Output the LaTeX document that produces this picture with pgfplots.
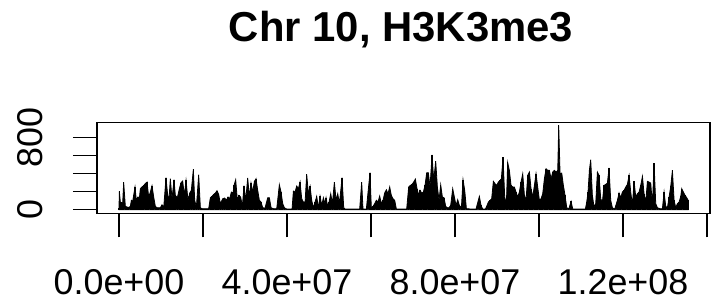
\documentclass[border=0pt]{standalone}
\usepackage{fontspec}
\setmainfont{Liberation Sans}
\usepackage{pgfplots}
\usepackage{pgfplotstable}
\pgfplotsset{compat=1.18}
\pgfplotstableread{
pos val
0.00 15
0.08 204
0.32 85
0.56 80
0.87 70
1.11 303
1.51 37
1.91 30
2.30 25
2.70 37
2.94 104
3.25 90
3.49 160
3.81 252
4.13 104
4.53 141
4.84 120
5.08 233
5.48 252
5.88 270
6.27 289
6.67 307
7.07 141
7.46 196
7.86 266
8.26 141
8.65 37
9.05 22
9.45 22
9.85 22
10.24 55
10.64 22
11.19 355
11.59 160
11.91 120
12.22 344
12.62 122
13.10 333
13.41 160
13.89 133
14.37 233
14.76 300
15.16 318
15.56 160
15.96 326
16.43 104
16.83 185
17.22 215
17.70 448
18.02 104
18.42 30
18.97 389
19.37 22
19.76 11
20.56 11
21.35 11
21.75 133
22.14 148
22.54 170
22.94 185
23.33 211
23.73 170
24.13 67
24.69 122
25.16 130
25.56 104
25.96 141
26.35 122
26.75 196
27.15 185
27.38 270
27.78 333
28.18 104
28.57 159
28.97 141
29.37 37
29.76 266
30.16 104
30.64 352
31.04 141
31.43 296
31.83 196
32.23 315
32.62 344
33.02 215
33.42 104
33.81 85
34.21 22
34.77 18
35.40 133
35.80 133
36.20 22
36.75 11
37.55 11
38.18 277
38.58 196
38.98 67
39.37 22
39.93 7
40.72 7
41.20 7
41.52 207
41.91 196
42.31 263
42.71 233
43.10 307
43.50 122
43.90 85
44.30 85
44.69 392
45.09 178
45.49 259
45.88 104
46.28 22
46.68 85
47.07 148
47.47 22
47.87 148
48.27 48
48.66 133
49.06 67
49.30 133
49.69 37
50.01 85
50.41 178
50.81 67
51.28 307
51.68 104
52.08 178
52.47 67
53.11 355
53.50 22
53.82 7
54.62 7
56.11 7
57.30 7
57.78 307
58.09 7
58.89 7
59.76 411
60.08 15
60.48 37
60.87 67
61.27 104
61.67 85
62.06 152
62.46 67
62.86 104
63.25 185
63.65 222
64.05 178
64.45 252
64.84 159
65.24 122
65.64 104
66.03 7
67.22 7
68.49 7
68.97 252
69.37 270
69.76 281
70.16 307
70.56 340
70.96 233
71.35 159
71.67 215
72.07 185
72.46 196
72.86 270
73.26 411
73.65 411
74.05 252
74.53 610
74.93 326
75.40 540
75.80 252
76.20 104
76.59 277
76.99 141
77.39 133
77.78 37
78.18 22
78.58 22
78.97 48
79.45 233
79.85 141
80.24 48
80.64 111
81.04 48
81.52 22
81.91 333
82.31 215
82.71 11
83.26 11
83.57 7
85.00 7
85.80 148
86.19 48
86.59 7
87.23 7
87.54 37
87.94 85
88.34 104
88.73 122
89.13 315
89.53 289
89.92 270
90.32 307
90.72 326
91.04 344
91.43 585
91.83 141
92.23 67
92.54 525
92.94 437
93.34 270
93.74 252
94.13 252
94.53 196
94.93 141
95.32 196
95.72 307
96.12 400
96.52 159
96.91 104
97.31 381
97.71 418
98.10 233
98.50 141
98.90 270
99.29 400
99.69 252
100.09 104
100.49 122
100.88 178
101.28 344
101.68 455
102.07 437
102.47 437
102.87 344
103.26 418
103.66 437
104.06 418
104.46 437
104.69 936
105.01 400
105.41 407
105.80 270
106.20 159
106.60 22
107.08 7
107.63 92
108.03 7
109.62 7
111.04 7
111.36 85
111.67 196
111.99 437
112.31 555
112.70 159
113.10 30
113.50 67
113.90 418
114.29 381
114.69 122
115.09 85
115.48 270
115.88 281
116.28 296
116.67 463
117.07 104
117.47 22
118.02 7
118.66 104
119.06 185
119.45 133
119.85 196
120.25 215
120.65 252
121.04 281
121.44 381
121.84 196
122.23 48
122.63 318
123.03 141
123.42 178
123.82 196
124.22 270
124.62 370
125.01 178
125.41 85
125.81 315
126.20 307
126.60 296
127.00 48
127.39 518
127.79 67
128.19 22
128.82 11
129.38 11
129.78 196
130.17 37
130.57 22
130.97 141
131.36 259
131.76 437
132.16 104
132.56 22
132.95 67
133.35 85
133.75 148
133.98 233
134.38 196
134.78 159
135.18 133
135.50 104
}\chrdata
\begin{document}
\begin{tikzpicture}
\useasboundingbox (0,0) rectangle (717bp,304bp);
\begin{axis}[
  at={(97bp,90.7bp)}, anchor=south west,
  scale only axis, width=613bp, height=91bp,
  xmin=-5.24, xmax=140.71, ymin=-40, ymax=971,
  axis line style={line width=1.5bp},
  every tick/.style={line width=1.5bp, black},
  tick align=outside, major tick length=24bp,
  xtick pos=bottom, ytick pos=left,
  xtick={0,20,40,60,80,100,120,140},
  xticklabels={0.0e+00,,4.0e+07,,8.0e+07,,1.2e+08,},
  ytick={0,200,400,600,800},
  yticklabels={\rotatebox{90}{0},,,,\rotatebox{90}{800}},
  xticklabel style={font=\fontsize{36}{36}\selectfont, anchor=base, inner sep=0pt, yshift=-56.7bp},
  yticklabel style={font=\fontsize{36}{36}\selectfont, anchor=east, inner sep=0pt, xshift=-29.5bp},
  title={Chr 10, H3K3me3},
  title style={font=\bfseries\fontsize{42}{42}\selectfont, anchor=base, at={(0.5,1)}, yshift=75bp, xshift=-2.5bp, inner sep=0pt},
  clip=false,
]
\addplot[fill=black, draw=black, line width=0.8bp, sharp plot] table[x=pos, y=val] {\chrdata} \closedcycle;
\addplot[ycomb, black, line width=1.4bp] table[x=pos, y=val] {\chrdata};
\end{axis}
\end{tikzpicture}
\end{document}
